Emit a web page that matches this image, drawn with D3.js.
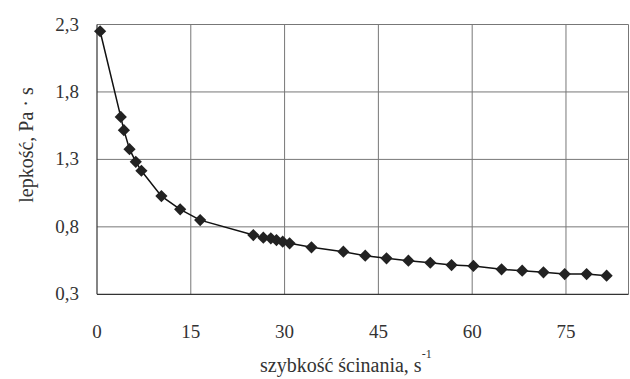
<!DOCTYPE html>
<html>
<head>
<meta charset="utf-8">
<script src="https://cdn.jsdelivr.net/npm/d3@7"></script>
</head>
<body style="margin:0; background:#fff">
<script>
// dane
const shearRate = [0.5, 3.8, 4.3, 5.2, 6.2, 7.1, 10.3, 13.3, 16.5, 25.0, 26.6, 27.8, 28.7, 29.7, 30.8,
  34.3, 39.4, 42.9, 46.3, 49.8, 53.3, 56.7, 60.2, 64.7, 68.0, 71.4, 74.8, 78.3, 81.5];
const viscosity = [2.25, 1.615, 1.517, 1.376, 1.282, 1.216, 1.028, 0.93, 0.85, 0.739, 0.72, 0.715, 0.702, 0.69, 0.678,
  0.648, 0.616, 0.586, 0.567, 0.549, 0.534, 0.517, 0.51, 0.485, 0.475, 0.463, 0.45, 0.45, 0.438];
const xTicks = [0, 15, 30, 45, 60, 75];
const yTicks = [0.3, 0.8, 1.3, 1.8, 2.3];
const yTickLabels = ["0,3", "0,8", "1,3", "1,8", "2,3"];

const width = 630, height = 379;
const margin = { top: 24.5, right: 1.5, bottom: 84.7, left: 97 };
const font = "'Liberation Serif', serif";

const svg = d3.select("body").append("svg")
  .attr("width", width)
  .attr("height", height);

const x = d3.scaleLinear().domain([0, 85]).range([margin.left, width - margin.right]);
const y = d3.scaleLinear().domain([0.3, 2.3]).range([height - margin.bottom, margin.top]);

// siatka
const grid = svg.append("g");
grid.selectAll(".vg")
  .data(xTicks.slice(1).concat([85]))
  .enter().append("line")
  .attr("x1", d => x(d)).attr("x2", d => x(d))
  .attr("y1", y(0.3)).attr("y2", y(2.3))
  .attr("stroke", "#777").attr("stroke-width", 1);
grid.selectAll(".hg")
  .data(yTicks.slice(1))
  .enter().append("line")
  .attr("x1", x(0)).attr("x2", x(85))
  .attr("y1", d => y(d)).attr("y2", d => y(d))
  .attr("stroke", "#777").attr("stroke-width", 1);

// osie
svg.append("line")
  .attr("x1", x(0)).attr("x2", x(0))
  .attr("y1", y(0.3)).attr("y2", y(2.3))
  .attr("stroke", "#333").attr("stroke-width", 1.2);
svg.append("line")
  .attr("x1", x(0)).attr("x2", x(85))
  .attr("y1", y(0.3)).attr("y2", y(0.3))
  .attr("stroke", "#333").attr("stroke-width", 1.2);

// etykiety
svg.append("g").selectAll("text")
  .data(yTicks)
  .enter().append("text")
  .attr("x", 79)
  .attr("y", d => y(d) + 6)
  .attr("text-anchor", "end")
  .attr("fill", "#333")
  .style("font-family", font, "important")
  .attr("font-size", 19)
  .text((d, i) => yTickLabels[i]);

svg.append("g").selectAll("text")
  .data(xTicks)
  .enter().append("text")
  .attr("x", d => x(d))
  .attr("y", 338)
  .attr("text-anchor", "middle")
  .attr("fill", "#333")
  .style("font-family", font, "important")
  .attr("font-size", 19)
  .text(d => d);

const xt = svg.append("text")
  .attr("x", 260)
  .attr("y", 372)
  .attr("fill", "#333")
  .style("font-family", font, "important")
  .attr("font-size", 20);
xt.append("tspan").text("szybkość ścinania, s");
xt.append("tspan").attr("dy", -14).attr("font-size", 12).text("-1");

svg.append("text")
  .attr("transform", "translate(33,145) rotate(-90)")
  .attr("text-anchor", "middle")
  .attr("fill", "#333")
  .style("font-family", font, "important")
  .attr("font-size", 20)
  .text("lepkość, Pa · s");

// linia + punkty
const pts = shearRate.map((d, i) => ({ x: d, y: viscosity[i] }));
const line = d3.line().x(d => x(d.x)).y(d => y(d.y));
svg.append("path")
  .datum(pts)
  .attr("d", line)
  .attr("fill", "none")
  .attr("stroke", "#111")
  .attr("stroke-width", 1.5);

svg.append("g").selectAll("path")
  .data(pts)
  .enter().append("path")
  .attr("d", d3.symbol().type(d3.symbolDiamond2).size(95))
  .attr("transform", d => `translate(${x(d.x)},${y(d.y)})`)
  .attr("fill", "#222");
</script>
</body>
</html>
